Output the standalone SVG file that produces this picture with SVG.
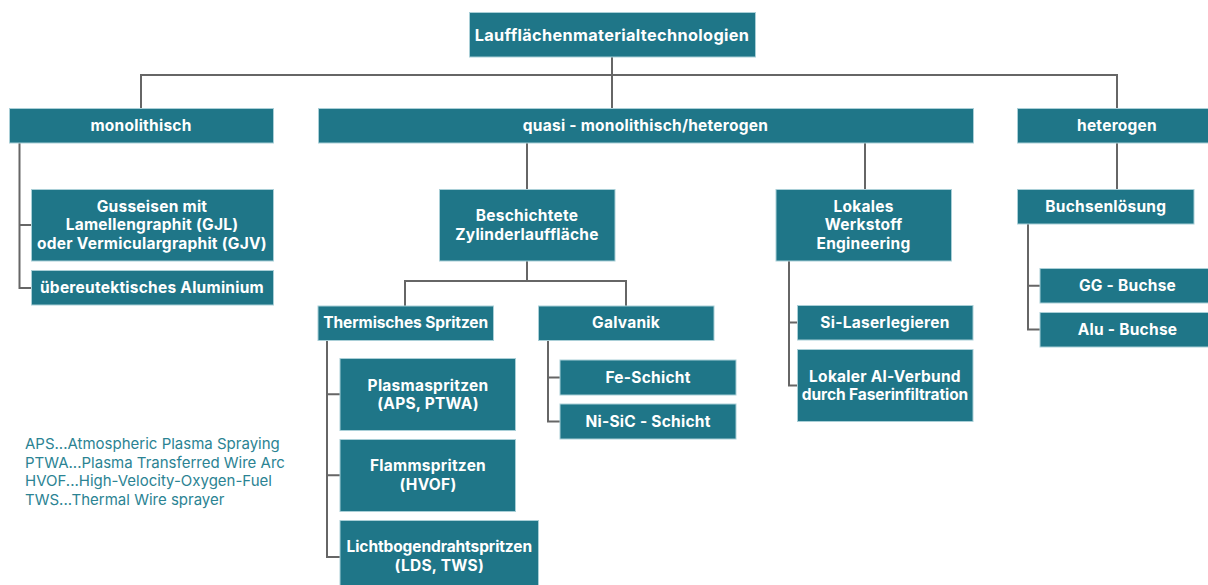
<svg xmlns="http://www.w3.org/2000/svg" width="1208" height="585" viewBox="0 0 1208 585">
  <style>
    .box { fill: #1f7688; stroke: #a9cfd7; stroke-width: 1; }
    .lbl { fill: #ffffff; font-family: Inter, "Open Sans", "Liberation Sans", sans-serif; font-weight: 700; font-size: 15.5px; text-anchor: middle; letter-spacing: 0.25px; }
    .big { font-size: 16.3px; letter-spacing: 0.35px; }
    .tight { letter-spacing: -0.1px; }
    .wire { fill: none; stroke: #666666; stroke-width: 2; }
    .note { fill: #2b8393; font-family: Inter, "Open Sans", "Liberation Sans", sans-serif; font-size: 15px; }
  </style>
  <rect width="1208" height="585" fill="#ffffff"/>

  <!-- connectors -->
  <g id="connectors" class="wire">
    <path d="M612 57 V108"/>
    <path d="M141 108 V75 H1117 V108"/>
    <path d="M19.5 143 V288 H31 M19.5 225 H31"/>
    <path d="M527 143 V189"/>
    <path d="M865 143 V189"/>
    <path d="M1117 143 V189"/>
    <path d="M527 261 V281 M405 306 V281 H626 V306"/>
    <path d="M327 340 V557 H340 M327 394.3 H340 M327 475.3 H340"/>
    <path d="M548 340 V421.5 H560 M548 377.5 H560"/>
    <path d="M789 261 V385.5 H797 M789 322.5 H797"/>
    <path d="M1028 224 V329.5 H1040 M1028 285.7 H1040"/>
  </g>

  <g id="root">
    <rect class="box" x="469.5" y="12.5" width="286" height="44.5"/>
    <text class="lbl big" x="612" y="40.5">Laufflächenmaterialtechnologien</text>
  </g>

  <g id="monolithisch">
    <rect class="box" x="9.5" y="108.5" width="264" height="34.5"/>
    <text class="lbl" x="141" y="131">monolithisch</text>
  </g>
  <g id="quasi">
    <rect class="box" x="318.5" y="108.5" width="655" height="34.5"/>
    <text class="lbl" x="645.5" y="131">quasi - monolithisch/heterogen</text>
  </g>
  <g id="heterogen">
    <rect class="box" x="1017.5" y="108.5" width="200" height="34.5"/>
    <text class="lbl" x="1117" y="131">heterogen</text>
  </g>

  <g id="gusseisen">
    <rect class="box" x="31.5" y="189.5" width="242" height="71.5"/>
    <text class="lbl" x="152" y="211.5">Gusseisen mit</text>
    <text class="lbl" x="152" y="230.2">Lamellengraphit (GJL)</text>
    <text class="lbl" x="152" y="248.9">oder Vermiculargraphit (GJV)</text>
  </g>
  <g id="aluminium">
    <rect class="box" x="31.5" y="270.5" width="242" height="34.5"/>
    <text class="lbl" x="152" y="293">übereutektisches Aluminium</text>
  </g>

  <g id="beschichtete">
    <rect class="box" x="439.5" y="189.5" width="175.5" height="71.5"/>
    <text class="lbl" x="527" y="220.8">Beschichtete</text>
    <text class="lbl" x="527" y="239.5">Zylinderlauffläche</text>
  </g>
  <g id="lokales">
    <rect class="box" x="776" y="189.5" width="175.5" height="71.5"/>
    <text class="lbl" x="863.5" y="211.5">Lokales</text>
    <text class="lbl" x="863.5" y="230.2">Werkstoff</text>
    <text class="lbl" x="863.5" y="248.9">Engineering</text>
  </g>
  <g id="buchsenloesung">
    <rect class="box" x="1017.5" y="189.5" width="176.5" height="34.5"/>
    <text class="lbl" x="1105.8" y="212">Buchsenlösung</text>
  </g>

  <g id="thermisches">
    <rect class="box" x="318" y="306" width="175.5" height="34.5"/>
    <text class="lbl tight" x="405.7" y="328">Thermisches Spritzen</text>
  </g>
  <g id="galvanik">
    <rect class="box" x="538.5" y="306" width="175.5" height="34.5"/>
    <text class="lbl" x="626" y="328">Galvanik</text>
  </g>
  <g id="laserlegieren">
    <rect class="box" x="797.5" y="305.5" width="175.5" height="34.5"/>
    <text class="lbl" x="885" y="328">Si-Laserlegieren</text>
  </g>
  <g id="verbund">
    <rect class="box" x="797.5" y="349.5" width="175.5" height="72"/>
    <text class="lbl" x="885" y="381.5">Lokaler Al-Verbund</text>
    <text class="lbl tight" x="885" y="400">durch Faserinfiltration</text>
  </g>
  <g id="gg-buchse">
    <rect class="box" x="1040" y="268.5" width="175" height="34.5"/>
    <text class="lbl" x="1127.5" y="291">GG - Buchse</text>
  </g>
  <g id="alu-buchse">
    <rect class="box" x="1040" y="312.5" width="175" height="34.5"/>
    <text class="lbl" x="1127.5" y="335">Alu - Buchse</text>
  </g>

  <g id="plasmaspritzen">
    <rect class="box" x="340" y="358.5" width="175.5" height="72"/>
    <text class="lbl" x="428" y="390.5">Plasmaspritzen</text>
    <text class="lbl" x="428" y="409">(APS, PTWA)</text>
  </g>
  <g id="flammspritzen">
    <rect class="box" x="340" y="439.5" width="175.5" height="72"/>
    <text class="lbl" x="428" y="471.2">Flammspritzen</text>
    <text class="lbl" x="428" y="490">(HVOF)</text>
  </g>
  <g id="lichtbogen">
    <rect class="box" x="340" y="520.5" width="198.5" height="72"/>
    <text class="lbl tight" x="439.3" y="552.2">Lichtbogendrahtspritzen</text>
    <text class="lbl" x="439.3" y="571">(LDS, TWS)</text>
  </g>
  <g id="fe-schicht">
    <rect class="box" x="560" y="360" width="176" height="35"/>
    <text class="lbl" x="648" y="383">Fe-Schicht</text>
  </g>
  <g id="nisic-schicht">
    <rect class="box" x="560" y="404" width="176" height="35"/>
    <text class="lbl" x="648" y="427">Ni-SiC - Schicht</text>
  </g>

  <!-- abbreviations -->
  <g id="legend" class="note">
    <text x="25" y="449">APS...Atmospheric Plasma Spraying</text>
    <text x="25" y="467.5">PTWA...Plasma Transferred Wire Arc</text>
    <text x="25" y="486">HVOF...High-Velocity-Oxygen-Fuel</text>
    <text x="25" y="504.5">TWS...Thermal Wire sprayer</text>
  </g>
</svg>
